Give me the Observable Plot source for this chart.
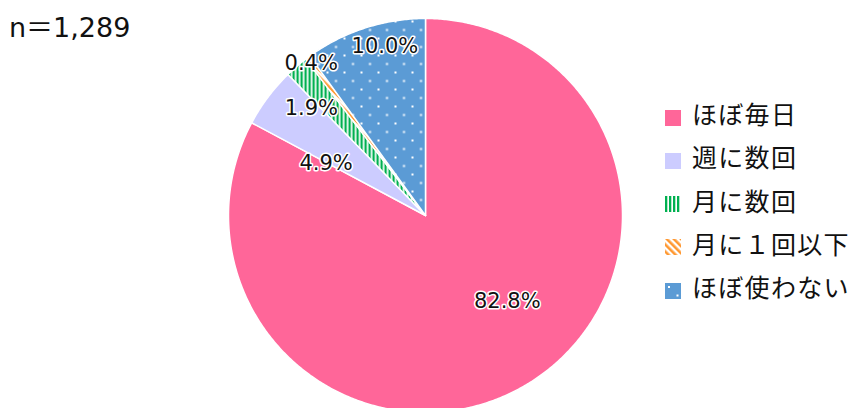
<!DOCTYPE html>
<html>
<head>
<meta charset="utf-8">
<script src="https://cdn.jsdelivr.net/npm/d3@7"></script>
<script src="https://cdn.jsdelivr.net/npm/@observablehq/plot@0.6"></script>
<style>
  html, body { margin: 0; padding: 0; background: #fff; }
  #wrap { position: relative; width: 852px; height: 408px; overflow: hidden; font-family: "DejaVu Sans", "Noto Sans CJK JP", sans-serif; }
  #n { position: absolute; left: 9px; top: 6px; font-size: 27px; color: #111; white-space: nowrap; }
  #legend { position: absolute; left: 665px; top: 0; }
  .row { position: absolute; left: 0; height: 30px; display: flex; align-items: center; white-space: nowrap; }
  .row svg { margin-top: 9px; }
  .row span { margin-left: 11px; font-family: "Noto Sans CJK JP", sans-serif; font-size: 25px; color: #111; letter-spacing: 1.3px; }
</style>
</head>
<body>
<div id="wrap">
  <div id="chart"></div>
  <div id="n"></div>
  <div id="legend"></div>
</div>
<script>
// ---- data ----
const categories = ["ほぼ毎日", "週に数回", "月に数回", "月に１回以下", "ほぼ使わない"];
const shares = [82.8, 4.9, 1.9, 0.4, 10.0];
const labels = ["82.8%", "4.9%", "1.9%", "0.4%", "10.0%"];
const sampleText = "n＝1,289";

// ---- styles ----
const fills = ["#FF6699", "#CCCCFF", "url(#pGreen)", "url(#pOrange)", "url(#pBlue)"];
const labelRadius = [0.62, 0.58, 0.8, 0.97, 0.88];
const labelNudge = [[19, -19], [-8, 16], [-11, 12], [0, 1], [13, -4]];

const W = 852, H = 408, cx = 425, cy = 215, R = 197;

const table = categories.map((c, i) => ({cat: c, v: shares[i], label: labels[i], i}));
const arcs = d3.pie().sort(null).value(d => d.v).startAngle(0).endAngle(2 * Math.PI)(table);

// sector outlines in unit coordinates (y up), built from pie angles
const pts = [];
for (const a of arcs) {
  pts.push({cat: a.data.cat, x: 0, y: 0});
  const n = Math.max(2, Math.ceil((a.endAngle - a.startAngle) / (Math.PI / 360)));
  for (let k = 0; k <= n; k++) {
    const t = a.startAngle + (a.endAngle - a.startAngle) * k / n;
    pts.push({cat: a.data.cat, x: Math.sin(t), y: Math.cos(t)});
  }
}
const labelPts = arcs.map(a => {
  const m = (a.startAngle + a.endAngle) / 2, r = labelRadius[a.data.i];
  return {label: a.data.label, x: r * Math.sin(m), y: r * Math.cos(m), dx: labelNudge[a.data.i][0], dy: labelNudge[a.data.i][1]};
});

const svg = Plot.plot({
  width: W, height: H, margin: 0,
  x: {domain: [-cx / R, (W - cx) / R], axis: null},
  y: {domain: [-(H - cy) / R, cy / R], axis: null},
  color: {type: "ordinal", domain: categories, range: fills},
  style: {background: "transparent", overflow: "visible"},
  marks: [
    Plot.line(pts, {x: "x", y: "y", z: "cat", fill: "cat", stroke: "white", strokeWidth: 1.5, curve: "linear-closed"}),
    ...labelPts.map(d => Plot.text([d], {x: "x", y: "y", text: "label", dx: d.dx, dy: d.dy,
      fontSize: 21, fontFamily: "DejaVu Sans, sans-serif", fill: "#111", stroke: "white", strokeWidth: 3, paintOrder: "stroke"}))
  ]
});

const defs = d3.select(svg).insert("defs", ":first-child");
const g = defs.append("pattern").attr("id", "pGreen").attr("patternUnits", "userSpaceOnUse").attr("width", 4).attr("height", 4);
g.append("rect").attr("width", 4).attr("height", 4).attr("fill", "#fff");
g.append("rect").attr("width", 2.3).attr("height", 4).attr("fill", "#00B050");
const o = defs.append("pattern").attr("id", "pOrange").attr("patternUnits", "userSpaceOnUse").attr("width", 5).attr("height", 5).attr("patternTransform", "rotate(-45)");
o.append("rect").attr("width", 5).attr("height", 5).attr("fill", "#fff");
o.append("rect").attr("width", 2.6).attr("height", 5).attr("fill", "#FF9933");
const b = defs.append("pattern").attr("id", "pBlue").attr("patternUnits", "userSpaceOnUse").attr("width", 17).attr("height", 17);
b.append("rect").attr("width", 17).attr("height", 17).attr("fill", "#5B9BD5");
b.append("rect").attr("x", 3).attr("y", 3).attr("width", 2).attr("height", 2).attr("fill", "#fff");
b.append("rect").attr("x", 11.5).attr("y", 11.5).attr("width", 2).attr("height", 2).attr("fill", "#fff");

document.getElementById("chart").appendChild(svg);
document.getElementById("n").textContent = sampleText;

const legend = d3.select("#legend");
categories.forEach((c, i) => {
  const row = legend.append("div").attr("class", "row").style("top", (98 + i * 43.3) + "px");
  const s = row.append("svg").attr("width", 16).attr("height", 16);
  s.append("rect").attr("width", 16).attr("height", 16).attr("fill", fills[i]);
  row.append("span").text(c);
});
</script>
</body>
</html>
